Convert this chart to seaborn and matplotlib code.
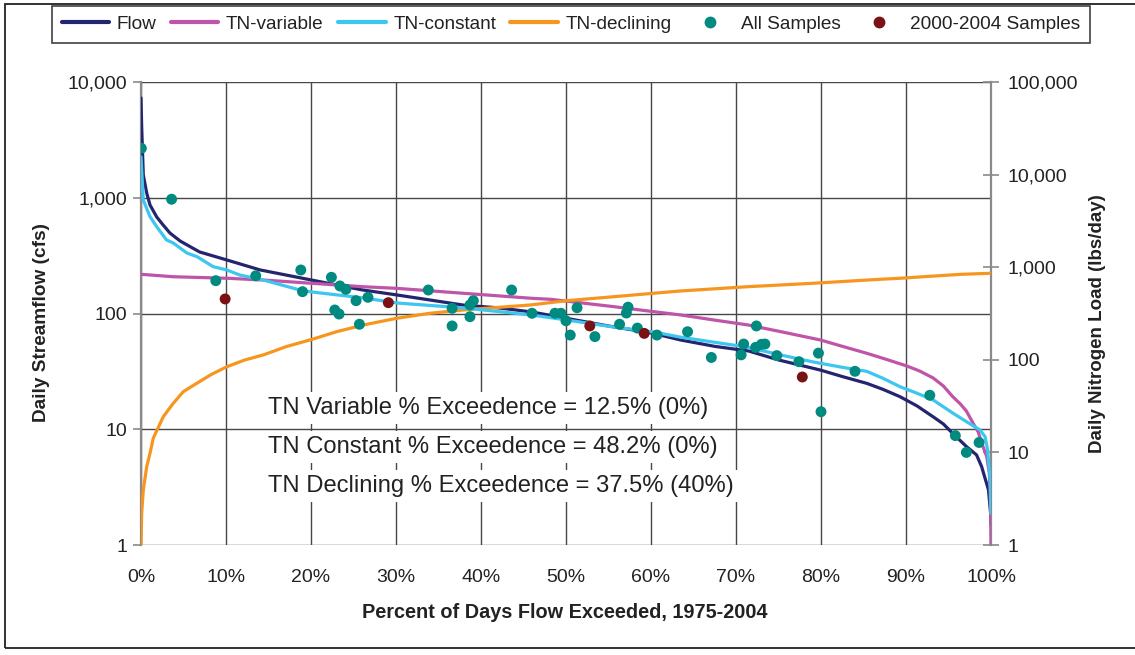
import numpy as np
import pandas as pd
import matplotlib
matplotlib.use("Agg")
import matplotlib.pyplot as plt
import seaborn as sns
from matplotlib.ticker import FixedLocator, FuncFormatter, NullLocator
from matplotlib.patches import Rectangle
from matplotlib.lines import Line2D

# ---------------- data ----------------
flow_pct = [0.0, 0.08, 0.27, 0.67, 1.06, 1.85, 2.6, 3.4, 4.6, 6.9, 10.1, 14.0, 20.0, 26.0,
            30.0, 38.0, 42.0, 46.0, 50.0, 55.0, 60.0, 63.5, 67.5, 71.5, 75.0, 79.9, 82.6,
            85.4, 87.3, 89.3, 91.3, 93.2, 94.4, 95.5, 97.1, 98.3, 98.9, 99.7, 99.95, 100.0]
flow_cfs = [7270, 4085, 1573, 1099, 866, 682, 582, 496, 423, 340, 290, 238, 195, 160,
            145, 118, 112, 103, 91, 78, 68, 59, 52, 47.4, 39.7, 32.5, 28.4,
            24.9, 22.1, 19.1, 15.9, 12.8, 11.1, 9.2, 7.1, 6.0, 4.75, 3.0, 1.9, 1.5]

const_pct = [0.0, 0.08, 0.27, 1.06, 1.85, 3.0, 3.8, 5.4, 6.6, 8.5, 10.1, 11.6, 14.4, 18.7,
             20.1, 26.2, 30.2, 38.0, 45.9, 50.1, 55.6, 60.3, 63.4, 71.3, 75.2, 79.1, 82.5,
             85.4, 87.3, 89.3, 91.3, 93.2, 95.5, 97.1, 98.1, 98.7, 99.3, 99.6, 99.9, 100.0]
tn_constant = [15600, 11210, 5320, 3510, 2737, 1967, 1825, 1423, 1298, 1012, 933, 824, 727, 567,
               540, 465, 410, 363, 305, 269, 226, 200, 176, 137, 113, 94.7, 83,
               75, 63.1, 51.2, 43.5, 36.8, 26.6, 21.5, 18.9, 17.5, 14.8, 10.6, 5.0, 2.2]

var_pct = [0.0, 3.8, 10.2, 14.4, 20.1, 26.2, 30.1, 37.9, 45.9, 48.2, 55.6, 60.3, 63.5, 67.4,
           71.4, 75.3, 79.9, 82.6, 85.4, 87.7, 90.1, 91.6, 93.2, 94.4, 95.5, 96.4, 97.1,
           97.9, 98.5, 98.9, 99.5, 99.8, 99.9, 99.97, 100.0]
tn_variable = [838, 789, 759, 727, 670, 615, 591, 523, 462, 450, 375, 331, 305, 269,
               238, 201, 164, 139, 117.5, 101, 85.7, 75.7, 63.6, 52.1, 40, 33.3, 28.0,
               20.6, 16.6, 12.6, 9.0, 6.0, 3.9, 1.86, 0.9]

decl_pct = [0.0, 0.08, 0.27, 0.67, 1.06, 1.45, 2.62, 3.8, 4.98, 6.55, 8.3, 10.1, 12.2, 14.4,
            17.1, 20.1, 23.0, 26.2, 30.1, 34.0, 37.9, 45.8, 50.1, 55.6, 60.3, 63.4, 71.4,
            79.0, 86.9, 89.3, 92.1, 96.5, 100.0]
tn_declining = [0.97, 2.2, 3.93, 7.0, 9.8, 14.3, 24.3, 33.9, 45.3, 55.7, 69.7, 84.2, 99.5, 113,
                139, 166, 201, 238, 281, 318, 345, 391, 435, 480, 523, 553, 616,
                670, 740, 759, 790, 838, 860]

samples_pct = [0.04, 3.6, 8.8, 13.5, 18.8, 19.0, 22.4, 23.4, 24.1, 22.8, 23.3, 25.3, 25.7,
               26.7, 33.8, 36.6, 36.6, 38.7, 39.1, 38.7, 43.6, 46.0, 48.7, 49.4, 50.0, 50.5,
               51.3, 53.4, 56.3, 57.1, 57.3, 58.4, 60.7, 64.3, 67.1, 70.6, 70.9, 72.4, 72.3,
               73.0, 73.4, 74.8, 77.4, 79.7, 80.0, 84.0, 92.8, 95.8, 97.1, 98.6]
samples_load = [19230, 5420, 715, 807, 933, 544, 778, 627, 577, 345, 312, 435, 242,
                473, 567, 360, 232, 391, 435, 292, 567, 318, 318, 318, 264, 185,
                365, 178, 242, 320, 370, 220, 185, 201, 106, 113, 148, 232, 136,
                147, 148, 111, 95.4, 118, 27.5, 75.1, 41.4, 15.2, 10.0, 12.8]

recent_pct = [9.9, 29.1, 52.8, 59.2, 77.8]
recent_load = [454, 414, 232, 193, 65.2]

x_ticks = [0, 10, 20, 30, 40, 50, 60, 70, 80, 90, 100]
left_ticks = [1, 10, 100, 1000, 10000]
right_ticks = [1, 10, 100, 1000, 10000, 100000]
notes = ["TN Variable % Exceedence = 12.5% (0%)",
         "TN Constant % Exceedence = 48.2% (0%)",
         "TN Declining % Exceedence = 37.5% (40%)"]

# ---------------- style ----------------
sns.set_theme(style="white")
plt.rcParams["font.family"] = ["Liberation Sans", "DejaVu Sans"]

C_FLOW = "#25256f"
C_VAR = "#bf55a9"
C_CONST = "#3cc6f0"
C_DECL = "#f7961e"
C_ALL = "#008a80"
C_RECENT = "#7a1214"
GRID = "#474747"
SPINE = "#8a8a8a"
TXT = "#222222"

fig = plt.figure(figsize=(11.35, 6.55), dpi=100)
ax = fig.add_axes([141 / 1135, 1 - 545 / 655, 850 / 1135, 463 / 655])
ax.set_yscale("log")
ax2 = ax.twinx()
ax2.set_yscale("log")

df_flow = pd.DataFrame({"pct": flow_pct, "val": flow_cfs})
df_var = pd.DataFrame({"pct": var_pct, "val": tn_variable})
df_const = pd.DataFrame({"pct": const_pct, "val": tn_constant})
df_decl = pd.DataFrame({"pct": decl_pct, "val": tn_declining})
df_all = pd.DataFrame({"pct": samples_pct, "val": samples_load})
df_rec = pd.DataFrame({"pct": recent_pct, "val": recent_load})

lw = 2.3
sns.lineplot(data=df_flow, x="pct", y="val", ax=ax, color=C_FLOW, lw=lw,
             sort=False, estimator=None, zorder=5)
sns.lineplot(data=df_var, x="pct", y="val", ax=ax2, color=C_VAR, lw=lw,
             sort=False, estimator=None, zorder=3)
sns.lineplot(data=df_const, x="pct", y="val", ax=ax2, color=C_CONST, lw=lw,
             sort=False, estimator=None, zorder=4)
sns.lineplot(data=df_decl, x="pct", y="val", ax=ax2, color=C_DECL, lw=lw,
             sort=False, estimator=None, zorder=3)
sns.scatterplot(data=df_all, x="pct", y="val", ax=ax2, color=C_ALL, s=62,
                edgecolor="none", zorder=6)
sns.scatterplot(data=df_rec, x="pct", y="val", ax=ax2, color=C_RECENT, s=62,
                edgecolor="none", zorder=7)

# axes limits and ticks
ax.set_xlim(0, 100)
ax.set_ylim(1, 10000)
ax2.set_ylim(1, 100000)

ax.xaxis.set_major_locator(FixedLocator(x_ticks))
ax.xaxis.set_major_formatter(FuncFormatter(lambda v, p: f"{int(v)}%"))
ax.yaxis.set_major_locator(FixedLocator(left_ticks))
ax.yaxis.set_minor_locator(NullLocator())
ax.yaxis.set_major_formatter(FuncFormatter(lambda v, p: f"{int(round(v)):,}"))
ax2.yaxis.set_major_locator(FixedLocator(right_ticks))
ax2.yaxis.set_minor_locator(NullLocator())
ax2.yaxis.set_major_formatter(FuncFormatter(lambda v, p: f"{int(round(v)):,}"))

ax.grid(True, which="major", color=GRID, lw=1.0)
ax.set_axisbelow(True)

ax.tick_params(axis="x", length=0, pad=17, labelsize=14, labelcolor=TXT)
ax.tick_params(axis="y", direction="out", length=6, width=1.2, color=SPINE,
               pad=4, labelsize=14, labelcolor=TXT, left=True)
ax2.tick_params(axis="y", direction="inout", length=12, width=1.2, color=SPINE,
                pad=6, labelsize=14, labelcolor=TXT, right=True)

for a in (ax, ax2):
    for s in a.spines.values():
        s.set_visible(False)
ax.spines["left"].set_visible(True)
ax.spines["left"].set_color(SPINE)
ax.spines["left"].set_linewidth(1.6)
ax2.spines["right"].set_visible(True)
ax2.spines["right"].set_color(SPINE)
ax2.spines["right"].set_linewidth(1.6)

ax.set_xlabel("")
ax.set_ylabel("")
ax2.set_ylabel("")
fig.text(42 / 1135, 1 - 322 / 655, "Daily Streamflow (cfs)", rotation=90, ha="center",
         va="center", fontsize=13.7, fontweight="bold", color=TXT)
fig.text(1098 / 1135, 1 - 324 / 655, "Daily Nitrogen Load (lbs/day)", rotation=90,
         ha="center", va="center", fontsize=13.5, fontweight="bold", color=TXT)
fig.text(565 / 1135, 1 - 612 / 655, "Percent of Days Flow Exceeded, 1975-2004",
         ha="center", va="center", fontsize=14.3, fontweight="bold", color=TXT)

# annotation text boxes
for i, t in enumerate(notes):
    ax.text(0.1494, [0.296, 0.2117, 0.1274][i], t, transform=ax.transAxes,
            ha="left", va="center", fontsize=17.1, color=TXT, zorder=10,
            bbox=dict(boxstyle="square,pad=0.2", fc="white", ec="none"))

# legend
handles = [
    Line2D([0], [0], color=C_FLOW, lw=3),
    Line2D([0], [0], color=C_VAR, lw=3),
    Line2D([0], [0], color=C_CONST, lw=3),
    Line2D([0], [0], color=C_DECL, lw=3),
    Line2D([0], [0], color=C_ALL, lw=0, marker="o", markersize=7.5),
    Line2D([0], [0], color=C_RECENT, lw=0, marker="o", markersize=7.5),
]
labels = ["Flow", "TN-variable", "TN-constant", "TN-declining", "All Samples",
          "2000-2004 Samples"]
leg = fig.legend(handles, labels, loc="center", bbox_to_anchor=(571 / 1135, 1 - 24.5 / 655),
                 ncol=6, fontsize=13.7, frameon=True, fancybox=False, edgecolor="#111111",
                 handlelength=2.5, handletextpad=0.4, columnspacing=0.75,
                 borderpad=0.5, labelcolor=TXT)
leg.get_frame().set_linewidth(1.2)

# outer frame
fig.patches.append(Rectangle((5 / 1135, 7 / 655), 1.2, 1 - 11 / 655, transform=fig.transFigure,
                             fill=False, edgecolor="#222222", lw=1.3))

fig.savefig("out.png", dpi=100)
